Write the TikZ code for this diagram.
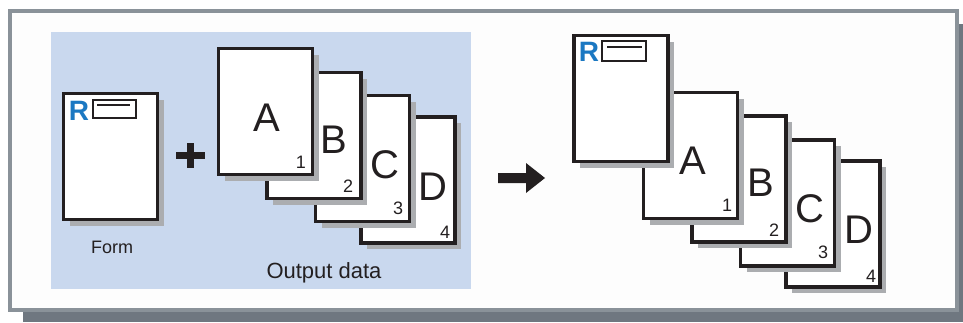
\documentclass[tikz,border=0pt]{standalone}
\usepackage{fontspec}
\setmainfont{Liberation Sans}
\usetikzlibrary{shadows}
\definecolor{ink}{HTML}{231F20}
\definecolor{framec}{HTML}{8A9299}
\definecolor{fshadow}{HTML}{6F7780}
\definecolor{framebg}{HTML}{FDFDFD}
\definecolor{panel}{HTML}{C9D8EE}
\definecolor{pshadow}{HTML}{ABADB0}
\definecolor{rblue}{HTML}{1B78C2}
\begin{document}
\begin{tikzpicture}[x=1pt,y=-1pt,
  sheet/.style={draw=ink, line width=3.3pt, fill=white, minimum width=94pt, minimum height=126pt, inner sep=0pt,
    drop shadow={shadow xshift=6pt, shadow yshift=-6pt, fill=pshadow, opacity=1}},
  bigletter/.style={font=\fontsize{40}{40}\selectfont, text=ink, inner sep=0pt},
  pagenum/.style={font=\fontsize{18}{18}\selectfont, text=ink, inner sep=0pt},
  caption/.style={font=\fontsize{18}{18}\selectfont, text=ink, inner sep=0pt, anchor=base},
  rlogo/.style={font=\fontsize{28}{28}\bfseries\selectfont, text=rblue, inner sep=0pt},
  formbox/.style={draw=ink, line width=2.3pt, fill=white},
  formline/.style={draw=ink, line width=2.3pt},
]
\useasboundingbox (0,0) rectangle (963,322);
% frame with shadow
\fill[fshadow] (23,24) rectangle (963,322);
\draw[draw=framec, line width=4pt, fill=framebg] (10,11) rectangle (957,310);
% blue panel
\fill[panel] (51,32) rectangle (471,289);

% ---- left: form
\node[sheet] (formL) at (110.5,156.5) {};
\node[rlogo] (rL) at (79,110.5) {R};
\draw[formbox] (93,100) rectangle (136,118);
\draw[formline] (97,105) -- (130,105);
\node[caption] (formcap) at (112,253) {Form};

% plus sign
\draw[ink, line width=7pt] (176,155.5) -- (205,155.5);
\draw[ink, line width=7pt] (190.5,143) -- (190.5,168);

% ---- left: output data pages
\node[sheet] (dL) at (408,180) {};
\node[bigletter] at (433,187) {D};
\node[pagenum] at (445,232) {4};
\node[sheet] (cL) at (362.5,158.5) {};
\node[bigletter] at (385,165) {C};
\node[pagenum] at (398,208) {3};
\node[sheet] (bL) at (314,135.5) {};
\node[bigletter] at (334,140) {B};
\node[pagenum] at (348,186) {2};
\node[sheet] (aL) at (265.5,111.5) {};
\node[bigletter] at (267,118) {A};
\node[pagenum] at (301,162) {1};
\node[caption, font=\fontsize{22}{22}\selectfont] (outcap) at (324,278) {Output data};

% arrow
\fill[ink] (498,173) -- (526,173) -- (526,163) -- (545,178) -- (526,193) -- (526,183) -- (498,183) -- cycle;

% ---- right: merged result
\node[sheet] (dR) at (833,224) {};
\node[bigletter] at (859,230) {D};
\node[pagenum] at (871,276) {4};
\node[sheet] (cR) at (787.5,203) {};
\node[bigletter] at (810,209) {C};
\node[pagenum] at (823,252) {3};
\node[sheet] (bR) at (739,179) {};
\node[bigletter] at (761,183) {B};
\node[pagenum] at (774,230) {2};
\node[sheet] (aR) at (690.5,155.5) {};
\node[bigletter] at (693,161) {A};
\node[pagenum] at (727,205) {1};
\node[sheet] (formR) at (621,98.5) {};
\node[rlogo] (rR) at (589,52) {R};
\draw[formbox] (602,41) rectangle (646,61);
\draw[formline] (607,47) -- (642,47);
\end{tikzpicture}
\end{document}
